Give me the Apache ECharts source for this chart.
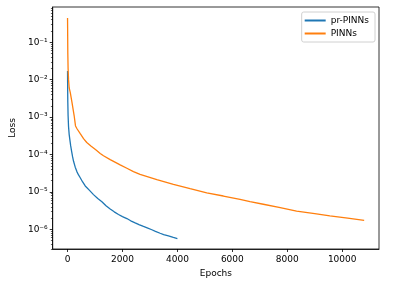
<!DOCTYPE html>
<html>
<head>
<meta charset="utf-8">
<script src="https://cdn.jsdelivr.net/npm/echarts@6/dist/echarts.min.js"></script>
<style>
html,body{margin:0;padding:0;background:#fff;}
#c{width:403px;height:285px;}
</style>
</head>
<body>
<div id="c"></div>
<script>
// Data
const prEpochs = [0, 5, 10, 20, 36, 60, 85, 115, 150, 185, 219, 280, 340, 400, 462, 550, 644, 800, 945, 1100, 1251, 1400, 1553, 1700, 1855, 2000, 2160, 2300, 2462, 2600, 2764, 2900, 3069, 3200, 3371, 3500, 3673, 3850, 4000];
const prLoss = [1.7e-2, 5e-3, 2.5e-3, 1.1e-3, 5.6e-4, 3.4e-4, 2.45e-4, 1.7e-4, 1.2e-4, 8.6e-5, 6.6e-5, 4.6e-5, 3.5e-5, 2.85e-5, 2.4e-5, 1.85e-5, 1.45e-5, 1.1e-5, 8.5e-6, 6.7e-6, 5.5e-6, 4.3e-6, 3.5e-6, 2.95e-6, 2.5e-6, 2.2e-6, 1.95e-6, 1.7e-6, 1.5e-6, 1.35e-6, 1.2e-6, 1.1e-6, 9.8e-7, 8.9e-7, 7.9e-7, 7.3e-7, 6.7e-7, 6.1e-7, 5.7e-7];
const piEpochs = [0, 10, 20, 36, 60, 100, 160, 240, 290, 350, 462, 582, 700, 850, 945, 1050, 1189, 1309, 1553, 1916, 2160, 2400, 2640, 3251, 3855, 4462, 5069, 5673, 6280, 6644, 7127, 7700, 8340, 9000, 9552, 10200, 10800];
const piLoss = [0.44, 5e-2, 2e-2, 1e-2, 6e-3, 4.5e-3, 2.5e-3, 1.1e-3, 5.8e-4, 4.8e-4, 3.6e-4, 2.65e-4, 2.1e-4, 1.7e-4, 1.5e-4, 1.3e-4, 1.07e-4, 9.3e-5, 7.3e-5, 5.3e-5, 4.3e-5, 3.5e-5, 2.95e-5, 2.15e-5, 1.6e-5, 1.22e-5, 9.5e-6, 7.8e-6, 6.3e-6, 5.5e-6, 4.7e-6, 3.9e-6, 3.1e-6, 2.65e-6, 2.3e-6, 2.0e-6, 1.75e-6];
const seriesNames = ['pr-PINNs', 'PINNs'];
const xTicks = [0, 2000, 4000, 6000, 8000, 10000];
const yMajor = [1e-6, 1e-5, 1e-4, 1e-3, 1e-2, 1e-1];
const yMinorMult = [2, 3, 4, 5, 6, 7, 8, 9];
const yMinorDecades = [1e-7, 1e-6, 1e-5, 1e-4, 1e-3, 1e-2, 1e-1];

const yMin = 3.0e-7, yMax = 0.87;
const yMinor = [];
yMinorDecades.forEach(d => yMinorMult.forEach(m => { const v = d * m; if (v >= yMin && v <= yMax) yMinor.push(v); }));

const sup = {'-': '\u207B', '0': '\u2070', '1': '\u00B9', '2': '\u00B2', '3': '\u00B3', '4': '\u2074', '5': '\u2075', '6': '\u2076', '7': '\u2077', '8': '\u2078', '9': '\u2079'};
function powLabel(v) {
  const e = Math.round(Math.log10(v));
  return '10' + String(e).split('').map(c => sup[c]).join('');
}

const font = 'DejaVu Sans';
const chart = echarts.init(document.getElementById('c'), null, {renderer: 'canvas'});
const baseY = {
  type: 'log', logBase: 10, min: yMin, max: yMax,
  splitLine: {show: false}, minorTick: {show: false}
};
chart.setOption({
  animation: false,
  textStyle: {fontFamily: font},
  grid: {left: 52, right: 24, top: 7, bottom: 36, show: true, borderColor: '#000', borderWidth: 0.8, backgroundColor: 'transparent'},
  legend: {
    orient: 'vertical', right: 28, top: 12,
    padding: [4, 6, 4, 3], itemGap: 4,
    itemWidth: 21, itemHeight: 2, icon: 'rect',
    borderColor: '#d0d0d0', borderWidth: 1, borderRadius: 2,
    textStyle: {fontFamily: font, fontSize: 9, color: '#000'},
    data: seriesNames
  },
  xAxis: {
    type: 'value', min: -540, max: 11340,
    name: 'Epochs', nameLocation: 'middle', nameGap: 19,
    nameTextStyle: {fontFamily: font, fontSize: 9, color: '#000'},
    axisLine: {show: true, onZero: false, lineStyle: {color: '#000', width: 0.8}},
    axisTick: {show: true, length: 3, lineStyle: {color: '#000', width: 0.8}, customValues: xTicks},
    axisLabel: {fontFamily: font, fontSize: 9, color: '#000', margin: 6, customValues: xTicks, formatter: v => String(v)},
    splitLine: {show: false}
  },
  yAxis: [
    Object.assign({}, baseY, {
      name: 'Loss', nameLocation: 'middle', nameGap: 29,
      nameTextStyle: {fontFamily: font, fontSize: 9, color: '#000'},
      axisLine: {show: true, onZero: false, lineStyle: {color: '#000', width: 0.8}},
      axisTick: {show: true, length: 3, lineStyle: {color: '#000', width: 0.8}, customValues: yMajor},
      axisLabel: {fontFamily: font, fontSize: 9, color: '#000', margin: 5, customValues: yMajor, formatter: powLabel}
    }),
    Object.assign({}, baseY, {
      position: 'left',
      axisLine: {show: false, onZero: false},
      axisTick: {show: true, length: 1.8, lineStyle: {color: '#000', width: 0.6}, customValues: yMinor},
      axisLabel: {show: false}
    })
  ],
  series: [
    {
      name: seriesNames[0], type: 'line', yAxisIndex: 0,
      data: prEpochs.map((e, i) => [e, prLoss[i]]),
      showSymbol: false, symbol: 'none',
      lineStyle: {color: '#1f77b4', width: 1.3}, itemStyle: {color: '#1f77b4'}
    },
    {
      name: seriesNames[1], type: 'line', yAxisIndex: 0,
      data: piEpochs.map((e, i) => [e, piLoss[i]]),
      showSymbol: false, symbol: 'none',
      lineStyle: {color: '#ff7f0e', width: 1.3}, itemStyle: {color: '#ff7f0e'}
    }
  ]
});
</script>
</body>
</html>
